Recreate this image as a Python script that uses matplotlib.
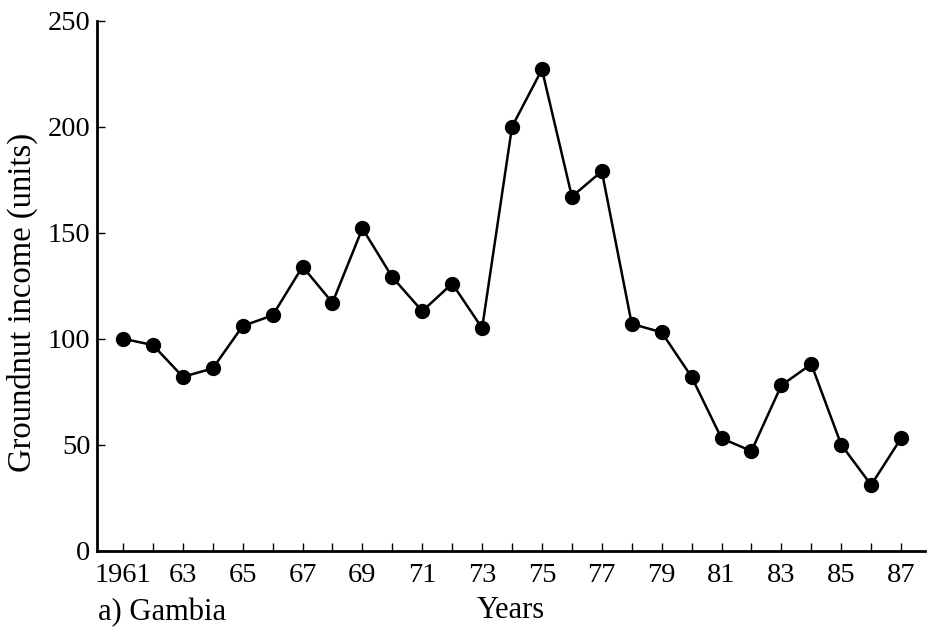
import matplotlib
matplotlib.use("Agg")
import matplotlib.pyplot as plt
from matplotlib.ticker import MultipleLocator, FixedLocator

years = list(range(1961, 1988))
income = [100, 97, 82, 86, 106, 111, 134, 117, 152, 129, 113, 126, 105,
          200, 227, 167, 179, 107, 103, 82, 53, 47, 78, 88, 50, 31, 53]

label_years = list(range(1961, 1988, 2))
label_text = ["1961"] + [str(y)[2:] for y in label_years[1:]]

plt.rcParams["font.family"] = ["Liberation Serif", "DejaVu Serif"]

fig = plt.figure(figsize=(9.29, 6.37), dpi=100)
ax = fig.add_axes([0.1047, 0.1355, 0.891, 0.832])

ax.plot(years, income, color="black", linewidth=1.8, marker="o",
        markersize=10, markerfacecolor="black", markeredgecolor="black")

ax.set_xlim(1960.14, 1987.8)
ax.set_ylim(0, 250)

ax.spines["top"].set_visible(False)
ax.spines["right"].set_visible(False)
ax.spines["left"].set_linewidth(2)
ax.spines["bottom"].set_linewidth(2)

ax.yaxis.set_major_locator(MultipleLocator(50))
ax.xaxis.set_major_locator(FixedLocator(label_years))
ax.xaxis.set_minor_locator(FixedLocator([y for y in years if y not in label_years]))
ax.set_xticklabels(label_text)

ax.tick_params(axis="y", direction="in", length=6, width=1, labelsize=20.5, pad=5)
ax.tick_params(axis="x", which="both", direction="in", length=6, width=1)
ax.tick_params(axis="x", which="major", labelsize=20.5, pad=9)

fig.text(0.024, 0.526, "Groundnut income (units)", fontsize=23.5,
         rotation=90, ha="center", va="center")
fig.text(0.106, 0.039, "a) Gambia", fontsize=22, ha="left", va="center")
fig.text(0.55, 0.041, "Years", fontsize=22, ha="center", va="center")

fig.savefig("out.png", dpi=100)
